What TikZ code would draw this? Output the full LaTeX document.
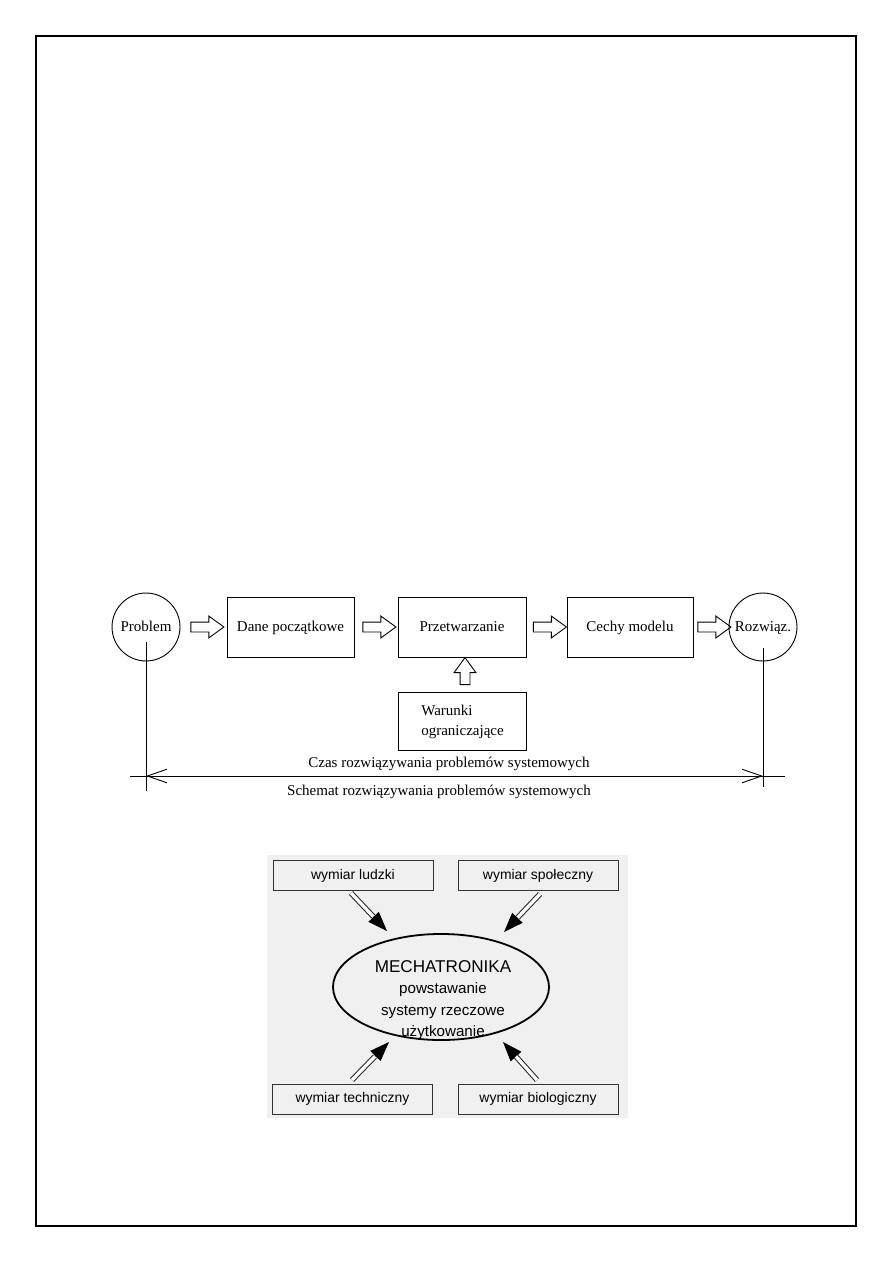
\documentclass[tikz,border=0pt]{standalone}
\usepackage{fontspec}
\setmainfont{Liberation Serif}
\newfontfamily\arialf{Liberation Sans}
\usetikzlibrary{arrows.meta,shapes.geometric,shapes.arrows,calc}
\begin{document}
\begin{tikzpicture}[x=0.66667pt,y=-0.66667pt,
  every node/.style={font=\fontsize{10pt}{12pt}\selectfont},
  circ/.style={circle,draw,line width=0.6pt,minimum size=45.3pt,inner sep=0pt,text height=1.6ex,text depth=0.4ex},
  rbox/.style={rectangle,draw,line width=0.6pt,minimum height=40pt,inner sep=0pt,text height=1.6ex,text depth=0.4ex},
  blk/.style={single arrow,draw,line width=0.6pt,minimum height=22pt,inner sep=3pt,
    single arrow head extend=4pt,single arrow tip angle=72},
  thin/.style={line width=0.6pt},
  dimtip/.style={line width=0.6pt,{Straight Barb[length=13pt,width=9pt]}-{Straight Barb[length=13pt,width=9pt]}},
  sbox/.style={rectangle,draw=black!80,line width=0.6pt,minimum width=106.7pt,minimum height=20pt,inner sep=0pt,
    font=\arialf\fontsize{9.3pt}{11pt}\selectfont},
  shaft/.style={draw=black!85,double=white,double distance=2.2pt,line width=0.7pt},
  head/.style={line width=0.5pt,black,-{Triangle[length=13pt,width=9.5pt]}}
]
\useasboundingbox (0,0) rectangle (893,1263);
\draw[line width=0.7pt] (36,36) rectangle (856,1226);

% ---------- upper diagram ----------
\node[circ] (prob) at (146,627) {Problem};
\node[rbox,minimum width=84.7pt] (dane) at (290.5,627) {Dane początkowe};
\node[rbox,minimum width=85.3pt] (przet) at (462,627) {Przetwarzanie};
\node[rbox,minimum width=84pt] (cechy) at (630,627) {Cechy modelu};
\node[circ] (rozw) at (763,627) {Rozwiąz.};
\node[rbox,minimum width=85.3pt,minimum height=38.7pt] (war) at (462,721) {};
\node[anchor=west,align=left,font=\fontsize{10pt}{12.8pt}\selectfont] (wart) at (416,722) {Warunki\\ograniczające};

\node[blk] (a1) at ($(prob.east)!0.5!(dane.west)+(0.5,0)$) {};
\node[blk] (a2) at ($(dane.east)!0.5!(przet.west)$) {};
\node[blk] (a3) at ($(przet.east)!0.5!(cechy.west)$) {};
\node[blk] (a4) at ($(cechy.east)!0.5!(rozw.west)$) {};
\node[blk,shape border rotate=90,minimum height=18pt] (a5) at ($(przet.south)!0.5!(war.north)+(3,0)$) {};

\coordinate (lx) at (130,776);
\coordinate (rx) at (785,776);
\coordinate (la) at (146,776);
\coordinate (ra) at (763,776);
\coordinate (pv) at (146,791);
\coordinate (rv) at (763,787);
\draw[thin] (lx) -- (rx);
\draw[dimtip] (la) -- (ra);
\draw[thin] ($(prob.center)+(0,15)$) -- (pv);
\draw[thin] ($(rozw.center)+(0,21)$) -- (rv);
\node (czas) at (449,764) {Czas rozwiązywania problemów systemowych};
\node (schem) at (439,792) {Schemat rozwiązywania problemów systemowych};

% ---------- lower diagram ----------
\fill[black!6] (267,855) rectangle (628,1118);
\node[sbox] (hl) at (353,875.5) {wymiar ludzki};
\node[sbox] (hs) at (538,875.5) {wymiar społeczny};
\node[sbox] (ht) at (352.5,1099) {wymiar techniczny};
\node[sbox] (hb) at (538,1099) {wymiar biologiczny};
\node[ellipse,draw,line width=1.2pt,minimum width=144pt,minimum height=70.7pt,inner sep=0pt] (mech) at (441,987) {};
\node[align=center,font=\arialf\fontsize{10.1pt}{14.4pt}\selectfont] (mtext) at (443,1000)
  {{\fontsize{11.4pt}{14.4pt}\selectfont MECHATRONIKA}\\powstawanie\\systemy rzeczowe\\użytkowanie};

\coordinate (s1) at (351,893);  \coordinate (t1) at (387,931);
\coordinate (s2) at (540,894);  \coordinate (t2) at (504,932);
\coordinate (s3) at (352,1080); \coordinate (t3) at (389,1042);
\coordinate (s4) at (537,1080); \coordinate (t4) at (503,1042);
\foreach \i in {1,2,3,4}{
  \draw[head] ($(s\i)!0.3!(t\i)$) -- (t\i);
  \draw[shaft] (s\i) -- ($(s\i)!0.62!(t\i)$);
}
\end{tikzpicture}
\end{document}
